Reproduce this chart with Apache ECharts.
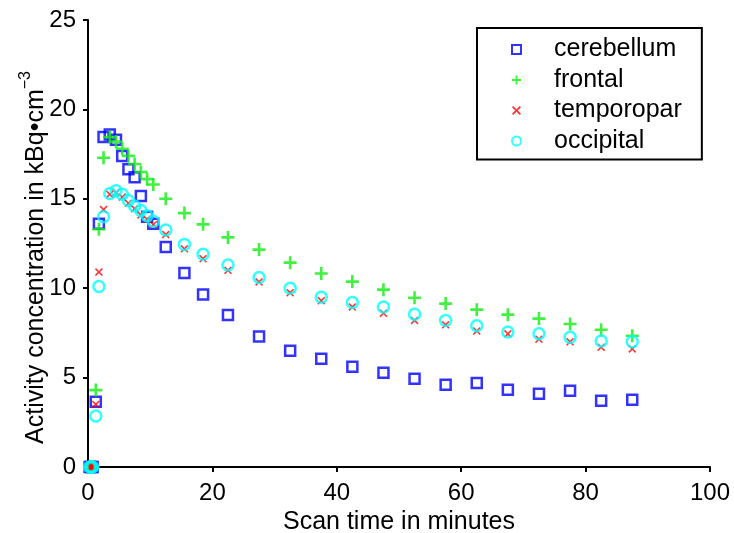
<!DOCTYPE html>
<html>
<head>
<meta charset="utf-8">
<script src="https://cdn.jsdelivr.net/npm/echarts@6/dist/echarts.min.js"></script>
<style>
  html, body { margin: 0; padding: 0; background: #fff; }
  #chart { width: 734px; height: 533px; }
</style>
</head>
<body>
<div id="chart"></div>
<script>
// Frame mid-times (minutes)
var times = [0.25, 0.5, 0.75, 1.25, 1.75, 2.5, 3.5, 4.5, 5.5, 6.5, 7.5, 8.5, 9.5, 10.5,
  12.5, 15.5, 18.5, 22.5, 27.5, 32.5, 37.5, 42.5, 47.5, 52.5, 57.5, 62.5, 67.5, 72.5, 77.5, 82.5, 87.5];

// Regional activity concentration (kBq/cm^3)
var cerebellum = [0, 0, 0, 3.65, 13.6, 18.45, 18.6, 18.3, 17.4, 16.65, 16.2, 15.15, 14.0, 13.6,
  12.3, 10.85, 9.65, 8.5, 7.3, 6.5, 6.05, 5.6, 5.27, 4.93, 4.6, 4.7, 4.32, 4.1, 4.26, 3.7, 3.76];
var frontal = [0, 0, 0, 4.3, 13.3, 17.3, 18.45, 18.2, 17.8, 17.4, 16.95, 16.5, 16.1, 15.8,
  15.0, 14.2, 13.57, 12.84, 12.16, 11.43, 10.82, 10.37, 9.92, 9.47, 9.14, 8.8, 8.52, 8.3, 8.0, 7.68, 7.34];
var temporopar = [0, 0, 0, 3.5, 10.9, 14.4, 15.25, 15.35, 15.1, 14.75, 14.45, 14.1, 13.85, 13.55,
  13.0, 12.2, 11.65, 11.0, 10.35, 9.75, 9.3, 8.95, 8.6, 8.2, 7.95, 7.6, 7.45, 7.15, 7.0, 6.7, 6.6];
var occipital = [0, 0, 0, 2.85, 10.1, 14.0, 15.3, 15.45, 15.25, 14.9, 14.6, 14.35, 14.05, 13.75,
  13.25, 12.45, 11.9, 11.3, 10.6, 10.0, 9.5, 9.2, 8.95, 8.55, 8.2, 7.9, 7.55, 7.45, 7.25, 7.05, 7.0];

var seriesNames = ['cerebellum', 'frontal', 'temporopar', 'occipital'];

var FONT = 'Liberation Sans, Arial, Helvetica, sans-serif';
// filled plus and diagonal cross marker outlines
var PLUS = 'path://M4,0H6V4H10V6H6V10H4V6H0V4H4Z';
var CROSS = 'path://M1.4,0L5,3.6L8.6,0L10,1.4L6.4,5L10,8.6L8.6,10L5,6.4L1.4,10L0,8.6L3.6,5L0,1.4Z';

function pairs(vals) {
  return times.map(function (t, i) { return [t, vals[i]]; });
}

var chart = echarts.init(document.getElementById('chart'), null, { renderer: 'canvas' });

chart.setOption({
  animation: false,
  backgroundColor: '#ffffff',
  grid: { left: 88, right: 24, top: 20, bottom: 66, containLabel: false, outerBoundsMode: 'none' },
  xAxis: {
    type: 'value', min: 0, max: 100, interval: 20,
    name: 'Scan time in minutes', nameLocation: 'middle', nameGap: 41,
    nameTextStyle: { fontFamily: FONT, fontSize: 25, color: '#000' },
    axisLine: { lineStyle: { color: '#000', width: 2 } },
    axisTick: { inside: false, length: 5, lineStyle: { color: '#000', width: 2 } },
    axisLabel: { fontFamily: FONT, fontSize: 24, color: '#000', margin: 14 },
    splitLine: { show: false }
  },
  yAxis: {
    type: 'value', min: 0, max: 25, interval: 5,
    name: 'Activity concentration in kBq•cm{sup|−3}', nameLocation: 'middle', nameGap: 34,
    nameMoveOverlap: false,
    nameTextStyle: {
      fontFamily: FONT, fontSize: 25, color: '#000', padding: [0, 28, 0, 0],
      rich: { sup: { fontFamily: FONT, fontSize: 16, color: '#000', padding: [0, 0, 20, 0] } }
    },
    axisLine: { show: true, lineStyle: { color: '#000', width: 2 } },
    axisTick: { show: true, inside: false, length: 5, lineStyle: { color: '#000', width: 2 } },
    axisLabel: { fontFamily: FONT, fontSize: 24, color: '#000', margin: 12 },
    splitLine: { show: false }
  },
  legend: {
    data: seriesNames,
    orient: 'vertical',
    left: 477, top: 28,
    padding: [9, 20, 6, 34],
    itemWidth: 9, itemHeight: 9,
    itemGap: 5.5,
    borderColor: '#000', borderWidth: 2,
    textStyle: { fontFamily: FONT, fontSize: 25, color: '#000', lineHeight: 25, padding: [0, 0, 0, 28] }
  },
  series: [
    {
      name: 'cerebellum', type: 'scatter', data: pairs(cerebellum), clip: false,
      symbol: 'rect', symbolSize: 10,
      itemStyle: { color: 'rgba(0,0,0,0)', borderColor: '#0000ff', borderWidth: 2.5 }
    },
    {
      name: 'frontal', type: 'scatter', data: pairs(frontal), clip: false,
      symbol: PLUS, symbolSize: 13,
      itemStyle: { color: '#11ee11' }
    },
    {
      name: 'temporopar', type: 'scatter', data: pairs(temporopar), clip: false,
      symbol: CROSS, symbolSize: 8,
      itemStyle: { color: '#ff0000' }
    },
    {
      name: 'occipital', type: 'scatter', data: pairs(occipital), clip: false,
      symbol: 'circle', symbolSize: 11,
      itemStyle: { color: 'rgba(0,0,0,0)', borderColor: '#00ffff', borderWidth: 2.5 }
    }
  ]
});
</script>
</body>
</html>
